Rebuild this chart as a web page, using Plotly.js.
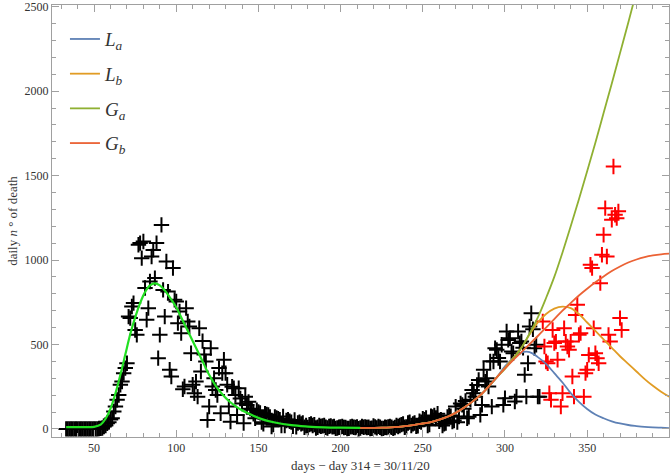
<!DOCTYPE html>
<html><head><meta charset="utf-8">
<script src="https://cdn.plot.ly/plotly-3.0.1.min.js"></script>
<style>html,body{margin:0;padding:0;background:#fff}#chart{width:672px;height:475px}</style>
</head><body><div id="chart"></div>
<script>
// observed daily deaths (black = fitted period, red = later data)
const blackDays = [];
for (let d = 33; d <= 321; d++) blackDays.push(d);
const blackDeaths = [
0,0,0,0,0,0,0,0,0,0,0,0,0,0,0,0,0,0,0,0,
2,3,5,14,20,33,40,56,
63,103,132,172,201,261,280,330,360,389,
665,656,725,745,586,557,1090,1100,1011,1110,
834,646,715,873,1021,1060,893,1100,419,557,
1208,823,665,991,813,350,310,952,764,754,
626,695,567,235,251,715,636,606,448,261,
211,280,191,596,340,520,440,399,53,132,
478,251,300,230,201,360,93,330,409,330,
261,132,43,250,241,200,83,241,180,150,
34,191,142,160,120,113,90,63,110,100,
95,40,30,90,85,83,70,14,25,70,
65,60,55,20,73,20,50,55,45,40,
15,53,12,35,40,30,35,10,20,8,
25,30,20,25,5,10,20,15,18,20,
10,5,15,18,12,14,3,5,10,12,
15,8,9,2,3,12,14,10,8,12,
1,5,15,10,12,8,10,2,4,18,
12,6,15,10,2,3,10,8,12,14,
10,3,8,20,14,20,25,30,10,12,
35,40,20,30,35,15,18,45,40,60,
55,65,20,25,75,70,80,65,90,45,
55,20,30,34,70,80,75,43,50,132,
40,73,150,142,120,165,63,72,172,231,
211,191,260,290,83,142,350,280,300,251,
400,132,399,478,468,420,399,498,142,182,
577,527,537,458,448,162,191,577,508,518,
480,320,191,389,606,685,590,478,498,191,
191];
const redDays = [323,324,325,326,327,328,329,330,331,332,334,335,336,337,338,339,340,341,342,343,344,345,346,348,349,350,351,352,353,354,355,356,357,358,359,360,361,362,363,364,365,366,367,368,369,370,371];
const redDeaths = [636,488,399,389,211,172,586,508,517,409,132,211,596,517,488,468,517,310,191,675,735,557,567,191,330,350,438,972,952,596,448,419,389,863,1031,1149,1307,1021,557,517,1238,1554,1268,1248,1288,656,586];

// first-wave fit (bright green)
const wave1Days = [33,40,45,50,54,57,60,63,66,69,72,75,78,81,84,87,90,93,96,100,104,108,112,116,120,124,128,132,136,140,146,152,160,170,180,190,200,212];
const wave1Fit  = [10,10,10,12,25,60,120,210,320,440,560,660,745,810,850,862,850,820,780,720,640,560,480,400,320,255,205,165,135,110,82,58,38,22,14,9,7,6];

// second-wave fits
const fitDays = [212,225,235,245,250,255,260,265,270,275,280,285,290,295,300,305,310,315,320,325,330,335,340,345,350,355,360,365,370,375,380,385,390,395,400];
const La = [6,7,12,24,32,40,55,72,95,125,160,200,250,305,370,420,452,455,425,385,330,275,212,160,118,85,63,45,32,23,17,12,9,7,5];
const Lb = [6,7,12,24,32,40,55,72,95,125,160,200,250,305,362,420,480,560,630,680,712,724,715,680,630,580,530,480,430,385,340,295,255,220,190];
const Ga = [6,7,12,24,32,40,55,72,95,125,160,200,250,305,355,415,480,565,660,775,900,1045,1200,1360,1525,1695,1870,2045,2225,2405,2590,2780,2970,3160,3350];
const Gb = [6,7,12,24,32,40,55,72,95,125,160,200,250,305,358,408,455,502,550,600,650,700,745,790,830,868,903,935,962,985,1003,1017,1027,1034,1038];

const seriesNames = ['<i>L</i><sub><i>a</i></sub>','<i>L</i><sub><i>b</i></sub>','<i>G</i><sub><i>a</i></sub>','<i>G</i><sub><i>b</i></sub>'];
const seriesColors = ['#5E81B5','#E19C24','#8FB032','#EB6235'];
const seriesValues = [La, Lb, Ga, Gb];

const SERIF = '"Liberation Serif", "Times New Roman", serif';
const traces = [];
traces.push({x: blackDays, y: blackDeaths, mode: 'markers', type: 'scatter', showlegend: false,
  marker: {symbol: 'cross-thin', size: 11, color: '#000', line: {color: '#000', width: 2}}});
traces.push({x: redDays, y: redDeaths, mode: 'markers', type: 'scatter', showlegend: false,
  marker: {symbol: 'cross-thin', size: 11, color: '#ff0000', line: {color: '#ff0000', width: 2}}});
traces.push({x: wave1Days, y: wave1Fit, mode: 'lines', type: 'scatter', showlegend: false,
  line: {color: '#22e022', width: 2.2, shape: 'spline', smoothing: 1}});
seriesValues.forEach((v, i) => {
  traces.push({x: fitDays, y: v, mode: 'lines', type: 'scatter', name: seriesNames[i],
    legendgroup: 'g' + i, line: {color: seriesColors[i], width: 1.8, shape: 'spline', smoothing: 1}});
});

const axisCommon = {
  showline: true, mirror: 'ticks', linecolor: '#a0a0a0', linewidth: 1,
  ticks: 'inside', ticklen: 7, tickcolor: '#a0a0a0', tickwidth: 1,
  showgrid: false, zeroline: false, ticklabeloverflow: 'allow',
  tickfont: {family: SERIF, size: 12, color: '#333'}
};
const layout = {
  width: 672, height: 475,
  margin: {l: 52, r: 3, t: 5, b: 38},
  paper_bgcolor: '#fff', plot_bgcolor: '#fff',
  xaxis: Object.assign({}, axisCommon, {
    range: [24.4, 399.8], tick0: 0, dtick: 50,
    minor: {dtick: 10, ticklen: 4, tickcolor: '#a0a0a0', ticks: 'inside'},
    title: {text: 'days − day 314 = 30/11/20', font: {family: SERIF, size: 13, color: '#333'}, standoff: 6}
  }),
  yaxis: Object.assign({}, axisCommon, {
    range: [-48, 2510], tick0: 0, dtick: 500,
    minor: {dtick: 100, ticklen: 4, tickcolor: '#a0a0a0', ticks: 'inside'},
    title: {text: 'daily <i>n</i> ° of death', font: {family: SERIF, size: 13, color: '#333'}, standoff: 4}
  }),
  legend: {x: 0.021, y: 0.965, xanchor: 'left', yanchor: 'top', bgcolor: 'rgba(0,0,0,0)',
    font: {family: SERIF, size: 19, color: '#333'}, tracegroupgap: 7, traceorder: 'grouped'},
  showlegend: true
};
Plotly.newPlot('chart', traces, layout, {staticPlot: true, displayModeBar: false});
</script></body></html>
